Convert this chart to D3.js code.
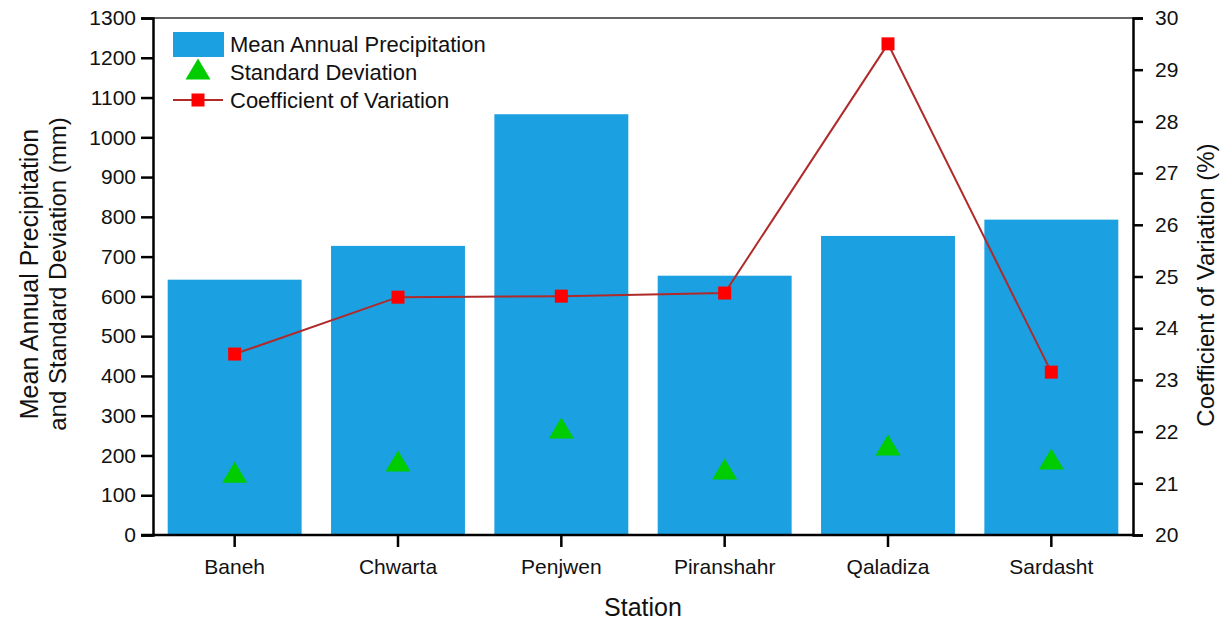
<!DOCTYPE html>
<html>
<head>
<meta charset="utf-8">
<script src="https://cdn.jsdelivr.net/npm/d3@7"></script>
<style>
  body { margin: 0; background: #fff; }
  svg text { font-family: "Liberation Sans", Arial, sans-serif; fill: #111; }
</style>
</head>
<body>
<svg id="chart" width="1225" height="623"></svg>
<script>
// data
const stations = ["Baneh", "Chwarta", "Penjwen", "Piranshahr", "Qaladiza", "Sardasht"];
const meanPrecip = [642, 727, 1058, 652, 752, 793];
const stdDev = [158, 186, 269, 166, 226, 191];
const coefVar = [23.5, 24.6, 24.62, 24.68, 29.5, 23.15];
const leftTicks = d3.range(0, 1301, 100);
const rightTicks = d3.range(20, 31, 1);

const svg = d3.select("#chart");
const margin = {top: 18, right: 92, bottom: 88, left: 153};
const W = 1225, H = 623;

const x = d3.scaleBand().domain(stations).range([margin.left, W - margin.right]).paddingInner(0.18).paddingOuter(0.09);
const y = d3.scaleLinear().domain([0, 1300]).range([H - margin.bottom, margin.top]);
const y2 = d3.scaleLinear().domain([20, 30]).range([H - margin.bottom, margin.top]);

const barColor = "#1ba0e1";
const triColor = "#00cc00";

// triangle centred on its bounding box (like the Origin marker)
function triPath(w, h) {
  return `M0,${-h / 2}L${w / 2},${h / 2}L${-w / 2},${h / 2}Z`;
}

// bars
svg.append("g").selectAll("rect")
  .data(meanPrecip)
  .join("rect")
  .attr("x", (d, i) => x(stations[i]))
  .attr("y", d => y(d))
  .attr("width", x.bandwidth())
  .attr("height", d => y(0) - y(d))
  .attr("fill", barColor);

// frame top line
svg.append("line")
  .attr("x1", margin.left).attr("x2", W - margin.right)
  .attr("y1", margin.top).attr("y2", margin.top)
  .attr("stroke", "#333").attr("stroke-width", 1.5);

// axes
const axL = svg.append("g")
  .attr("transform", `translate(${margin.left},0)`)
  .call(d3.axisLeft(y).tickValues(leftTicks).tickFormat(d3.format("d")).tickSize(12).tickPadding(5));
const axR = svg.append("g")
  .attr("transform", `translate(${W - margin.right},0)`)
  .call(d3.axisRight(y2).tickValues(rightTicks).tickFormat(d3.format("d")).tickSize(10).tickPadding(12));
const axB = svg.append("g")
  .attr("transform", `translate(0,${H - margin.bottom})`)
  .call(d3.axisBottom(x).tickSize(12).tickPadding(12).tickSizeOuter(0));

[axL, axR, axB].forEach(g => {
  g.selectAll("path, line").attr("stroke", "#000").attr("stroke-width", 2.5);
  g.selectAll("text").attr("font-size", 21).attr("fill", "#111")
    .attr("font-family", "Liberation Sans, Arial, sans-serif");
});
axB.select(".domain").attr("d", `M${margin.left - 12},0H${W - margin.right}`);

// CV line
const cvLine = d3.line()
  .x((d, i) => x(stations[i]) + x.bandwidth() / 2)
  .y(d => y2(d));
svg.append("path")
  .datum(coefVar)
  .attr("d", cvLine)
  .attr("fill", "none")
  .attr("stroke", "#b02a2a")
  .attr("stroke-width", 2);
svg.append("g").selectAll("rect")
  .data(coefVar)
  .join("rect")
  .attr("x", (d, i) => x(stations[i]) + x.bandwidth() / 2 - 6.5)
  .attr("y", d => y2(d) - 6.5)
  .attr("width", 13).attr("height", 13)
  .attr("fill", "#ff0000");

// SD triangles
svg.append("g").selectAll("path")
  .data(stdDev)
  .join("path")
  .attr("d", triPath(25, 21))
  .attr("transform", (d, i) => `translate(${x(stations[i]) + x.bandwidth() / 2},${y(d)})`)
  .attr("fill", triColor);

// legend
const lg = svg.append("g");
lg.append("rect").attr("x", 173).attr("y", 32).attr("width", 51).attr("height", 25).attr("fill", barColor);
lg.append("path").attr("d", triPath(25, 21)).attr("transform", "translate(198,69)").attr("fill", triColor);
lg.append("line").attr("x1", 173).attr("x2", 223).attr("y1", 100).attr("y2", 100)
  .attr("stroke", "#b02a2a").attr("stroke-width", 2);
lg.append("rect").attr("x", 191.5).attr("y", 93.5).attr("width", 13).attr("height", 13).attr("fill", "#ff0000");
const legendLabels = ["Mean Annual Precipitation", "Standard Deviation", "Coefficient of Variation"];
lg.selectAll("text")
  .data(legendLabels)
  .join("text")
  .attr("x", 230)
  .attr("y", (d, i) => 52 + i * 28)
  .attr("font-size", 22)
  .text(d => d);

// axis titles
svg.append("text")
  .attr("transform", "translate(38,274) rotate(-90)")
  .attr("text-anchor", "middle")
  .attr("font-size", 25)
  .text("Mean Annual Precipitation");
svg.append("text")
  .attr("transform", "translate(66,274) rotate(-90)")
  .attr("text-anchor", "middle")
  .attr("font-size", 24)
  .text("and Standard Deviation (mm)");
svg.append("text")
  .attr("transform", "translate(1214,285) rotate(-90)")
  .attr("text-anchor", "middle")
  .attr("font-size", 24)
  .text("Coefficient of Variation (%)");
svg.append("text")
  .attr("x", x.range()[0] + (x.range()[1] - x.range()[0]) / 2)
  .attr("y", 616)
  .attr("text-anchor", "middle")
  .attr("font-size", 25)
  .text("Station");
</script>
</body>
</html>
